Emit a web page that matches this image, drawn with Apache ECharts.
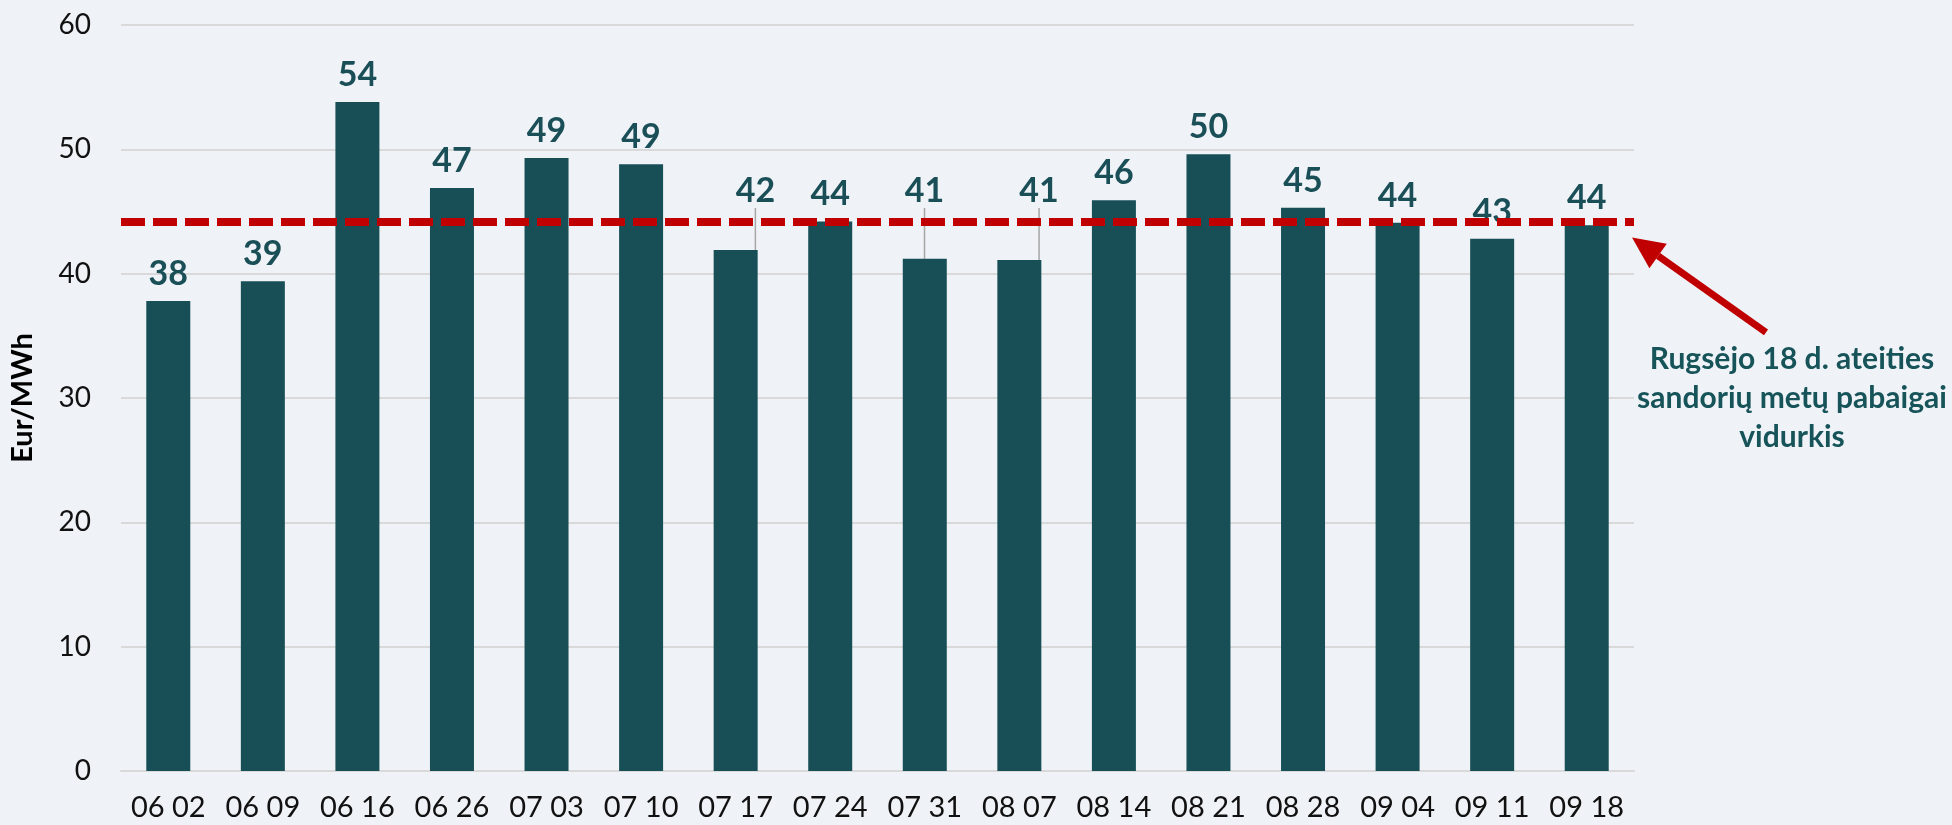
<!DOCTYPE html>
<html>
<head>
    <meta charset="UTF-8">
    <title>Eur/MWh</title>
    <script src="https://cdn.jsdelivr.net/npm/echarts@6/dist/echarts.min.js"></script>
    <style>
        html, body { margin: 0; padding: 0; background: #eff3f7; }
        #main { width: 1952px; height: 825px; }
    </style>
</head>
<body>
    <div id="main"></div>
    <script>
        // weekly dates (MM DD)
        var categories = ['06 02','06 09','06 16','06 26','07 03','07 10','07 17','07 24',
                          '07 31','08 07','08 14','08 21','08 28','09 04','09 11','09 18'];
        // Eur/MWh
        var values = [37.8, 39.4, 53.8, 46.9, 49.3, 48.8, 41.9, 44.2,
                      41.2, 41.1, 45.9, 49.6, 45.3, 44.1, 42.8, 43.9];
        var yTicks = [0, 10, 20, 30, 40, 50, 60];
        var futuresAvg = 44.2;
        // labels that sit above the red line, with a guide line to the bar
        var raisedLabels = [6, 8, 9];
        var raisedLabelAt = 46.65;
        var noteLines = ['Rugsėjo 18 d. ateities', 'sandorių metų pabaigai', 'vidurkis'];

        var teal = '#184f57';
        var red = '#c00000';

        var chartDemo = echarts.init(document.getElementById('main'));

        var barData = values.map(function (v, i) {
            var item = { value: v };
            if (raisedLabels.indexOf(i) >= 0) {
                item.labelLine = { show: true };
            }
            return item;
        });

        chartDemo.setOption({
            backgroundColor: '#eff3f7',
            textStyle: { fontFamily: 'Lato' },
            grid: { left: 116, right: 318, top: 25, bottom: 54 },
            xAxis: {
                type: 'category',
                data: categories,
                axisTick: { show: false },
                axisLine: { lineStyle: { color: '#d9d9d9', width: 2 } },
                axisLabel: { color: '#111', fontSize: 29, margin: 22, interval: 0 }
            },
            yAxis: {
                type: 'value',
                min: yTicks[0],
                max: yTicks[yTicks.length - 1],
                interval: 10,
                name: 'Eur/MWh',
                nameLocation: 'middle',
                nameRotate: 90,
                nameGap: 84,
                nameTextStyle: { color: '#000', fontSize: 29, fontWeight: 'bold' },
                axisLabel: { color: '#111', fontSize: 28, margin: 30 },
                splitLine: { lineStyle: { color: '#d9d9d9', width: 2 } }
            },
            series: [{
                type: 'bar',
                data: barData,
                barWidth: 44,
                itemStyle: { color: teal },
                label: {
                    show: true,
                    position: 'top',
                    distance: 10,
                    color: '#1b4f58',
                    fontSize: 34,
                    fontWeight: 'bold',
                    formatter: function (p) { return Math.round(p.value); }
                },
                labelLine: { show: false, lineStyle: { color: '#a6a6a6', width: 1.5 } },
                labelLayout: function (params) {
                    if (raisedLabels.indexOf(params.dataIndex) < 0) return {};
                    var r = params.rect;
                    var v = values[params.dataIndex];
                    var base = r.y + r.height;
                    var y = base - raisedLabelAt * r.height / v;
                    return {
                        y: y,
                        verticalAlign: 'middle',
                        dx: params.dataIndex === 8 ? -10 : 0
                    };
                },
                markLine: {
                    silent: true,
                    symbol: 'none',
                    label: { show: false },
                    lineStyle: { color: red, width: 8, type: [24, 8] },
                    data: [{ yAxis: futuresAvg }]
                },
                z: 2
            }]
        });

        // annotation arrow + note, arrow tip just under the average line
        var tipY = chartDemo.convertToPixel({ yAxisIndex: 0 }, futuresAvg) + 16;
        var tip = [1632, tipY];
        var tail = [1766, tipY + 95];
        var dx = tail[0] - tip[0], dy = tail[1] - tip[1];
        var len = Math.sqrt(dx * dx + dy * dy);
        var ux = dx / len, uy = dy / len;
        var headLen = 32, headHalf = 15;
        var bx = tip[0] + ux * headLen, by = tip[1] + uy * headLen;

        chartDemo.setOption({
            graphic: [{
                type: 'line',
                shape: { x1: bx, y1: by, x2: tail[0], y2: tail[1] },
                style: { stroke: red, lineWidth: 7 }
            }, {
                type: 'polygon',
                shape: { points: [tip, [bx - uy * headHalf, by + ux * headHalf], [bx + uy * headHalf, by - ux * headHalf]] },
                style: { fill: red }
            }, {
                type: 'text',
                x: 1792,
                y: 398,
                style: {
                    text: noteLines.join('\n'),
                    font: 'bold 30px Lato',
                    fill: '#17545a',
                    align: 'center',
                    verticalAlign: 'middle',
                    lineHeight: 39
                }
            }]
        });
    </script>
</body>
</html>
